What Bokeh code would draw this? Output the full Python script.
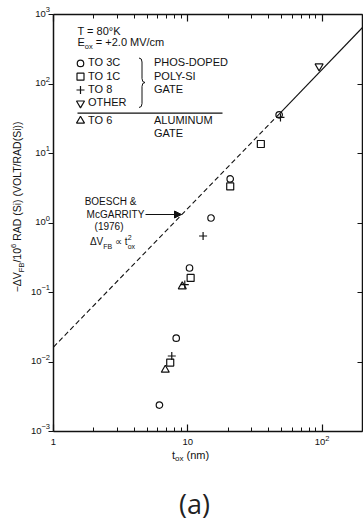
import math
import re
from bokeh.plotting import figure
from bokeh.models import Label, Arrow, NormalHead, FixedTicker, LogAxis, Range1d
from bokeh.embed import file_html
from bokeh.resources import INLINE

# ---------------- data ----------------
TO3C_X = [6.15, 8.2, 10.3, 14.9, 20.7, 47.9]
TO3C_Y = [0.0024, 0.022, 0.225, 1.18, 4.3, 36.0]
TO1C_X = [7.4, 10.5, 20.7, 35.0]
TO1C_Y = [0.0098, 0.162, 3.36, 13.7]
TO8_X = [7.6, 9.5, 13.0, 49.0]
TO8_Y = [0.0122, 0.13, 0.65, 33.0]
OTHER_X = [95.0]
OTHER_Y = [180.0]
TO6_X = [6.8, 9.1]
TO6_Y = [0.0077, 0.122]

# Boesch & McGarrity t_ox^2 line (dashed part, solid part)
DASH_X = [1.0, 47.9]
DASH_Y = [0.0164, 37.0]
SOLID_X = [47.9, 200.0]
SOLID_Y = [37.0, 650.0]

X_TICKS = [1, 10, 100]
X_TICK_LABELS = [("1", ""), ("10", ""), ("10", "2")]
X_MINOR = [2, 3, 4, 5, 6, 7, 8, 9, 20, 30, 40, 50, 60, 70, 80, 90]
Y_TICKS = [1e-3, 1e-2, 1e-1, 1e0, 1e1, 1e2, 1e3]
Y_TICK_LABELS = [("10", "\u22123"), ("10", "\u22122"), ("10", "\u22121"), ("10", "0"),
                 ("10", "1"), ("10", "2"), ("10", "3")]

# ---------------- layout (pixel frame of the axes box) ----------------
WIDTH, HEIGHT = 363, 524
L, R, T, B = 53, 362, 14, 431
XMIN, XMAX = 1.0, 200.0
YMIN, YMAX = 1e-3, 1e3
PPX = (R - L) / math.log10(XMAX / XMIN)
PPY = (B - T) / math.log10(YMAX / YMIN)
FONT = "Liberation Sans"
INK = "#111111"
BASE_FIX = -0.45   # em correction of the label baseline


def X(px):
    return XMIN * 10 ** ((px - L) / PPX)


def Y(py):
    return YMAX * 10 ** (-(py - T) / PPY)


def PX(v):
    return L + PPX * math.log10(v / XMIN)


def PY(v):
    return T + PPY * math.log10(YMAX / v)


WID = {' ': .278, '(': .333, ')': .333, '/': .278, '-': .333, '+': .584, '=': .584,
       '.': .278, '&': .667, '\u00b0': .4, '\u2212': .584, '\u0394': .668, '\u221d': .713,
       'A': .667, 'B': .667, 'C': .722, 'D': .722, 'E': .667, 'F': .611, 'G': .778,
       'H': .722, 'I': .278, 'K': .667, 'L': .556, 'M': .833, 'N': .722, 'O': .778,
       'P': .667, 'R': .722, 'S': .667, 'T': .611, 'U': .722, 'V': .667, 'Y': .667,
       'a': .556, 'c': .5, 'i': .222, 'm': .833, 'n': .556, 'o': .556, 'x': .5,
       't': .278, 's': .5}


def tw(s, size):
    return sum(WID.get(ch, .556) for ch in s) * size


# the frame covers the whole canvas; axes are pinned with fixed_location
p = figure(width=WIDTH, height=HEIGHT, x_axis_type="log", y_axis_type="log",
           x_range=Range1d(X(0), X(WIDTH)), y_range=Range1d(Y(HEIGHT), Y(0)),
           output_backend="svg", toolbar_location=None,
           min_border_left=0, min_border_right=0, min_border_top=0,
           min_border_bottom=0)
p.grid.visible = False
p.outline_line_color = None
p.background_fill_color = "white"
p.border_fill_color = "white"


def style_axis(ax, tin, tout, minor_in, loc, bounds):
    ax.fixed_location = loc
    ax.bounds = bounds
    ax.axis_line_width = 1.5
    ax.axis_line_color = INK
    ax.major_tick_line_color = INK
    ax.major_tick_line_width = 1.2
    ax.major_tick_in = tin
    ax.major_tick_out = tout
    ax.minor_tick_line_color = INK if minor_in else None
    ax.minor_tick_line_width = 1.0
    ax.minor_tick_in = minor_in
    ax.minor_tick_out = 0
    ax.major_label_text_font_size = "1px"
    ax.major_label_text_color = None
    ax.major_label_standoff = 0


xb = p.xaxis[0]
xb.ticker = FixedTicker(ticks=X_TICKS, minor_ticks=X_MINOR)
style_axis(xb, 7, 0, 4, YMIN, (XMIN, XMAX))
yl = p.yaxis[0]
yl.ticker = FixedTicker(ticks=Y_TICKS, minor_ticks=[])
style_axis(yl, 0, 5, 0, XMIN, (YMIN, YMAX))

xt = LogAxis(ticker=FixedTicker(ticks=X_TICKS, minor_ticks=X_MINOR))
style_axis(xt, 7, 0, 4, YMAX, (XMIN, XMAX))
p.add_layout(xt, "above")
yr = LogAxis(ticker=FixedTicker(ticks=Y_TICKS, minor_ticks=[]))
style_axis(yr, 5, 0, 0, XMAX, (YMIN, YMAX))
p.add_layout(yr, "right")


def runs(parts, px, py, align="left", angle=0.0, font=FONT, color=INK):
    """parts: (text, size, baseline shift px [, advance])"""
    def adv(pt):
        return pt[3] if len(pt) > 3 else True
    total = sum(tw(pt[0], pt[1]) for pt in parts if adv(pt))
    acc = {"left": 0.0, "center": -total / 2, "right": -total}[align]
    for pt in parts:
        t, s, d = pt[0], pt[1], pt[2]
        lead = len(t) - len(t.lstrip(" "))
        shown = re.sub(" +", " ", t.strip(" "))
        a = acc + tw(" " * lead, s)
        if angle == 0:
            x, y = px + a, py + d + BASE_FIX * s
        else:
            x, y = px + d + BASE_FIX * s, py - a
        p.add_layout(Label(x=X(x), y=Y(y), text=shown, text_font=font,
                           text_font_size=f"{s}px", text_color=color,
                           text_align="left", text_baseline="alphabetic",
                           angle=angle))
        if adv(pt):
            acc += tw(t, s)


# ---------------- fitted line ----------------
p.line(DASH_X, DASH_Y, line_color=INK, line_width=1.1, line_dash="5 3")
p.line(SOLID_X, SOLID_Y, line_color=INK, line_width=1.1)

# ---------------- data markers ----------------
mk = dict(fill_alpha=0, line_color=INK, line_width=1.2)
p.scatter(TO3C_X, TO3C_Y, marker="circle", size=6.5, **mk)
p.scatter(TO1C_X, TO1C_Y, marker="square", size=7, **mk)
p.scatter(TO8_X, TO8_Y, marker="cross", size=8, **mk)
p.scatter(OTHER_X, OTHER_Y, marker="inverted_triangle", size=8, **mk)
p.scatter(TO6_X, TO6_Y, marker="triangle", size=8, **mk)

# ---------------- tick labels ----------------
for v, (base, ex) in zip(X_TICKS, X_TICK_LABELS):
    parts = [(base, 9.5, 0)] + ([(ex, 7.5, -5)] if ex else [])
    runs(parts, PX(v), 446, align="center")
for v, (base, ex) in zip(Y_TICKS, Y_TICK_LABELS):
    runs([(base, 9.5, 0), (ex, 7.5, -5)], 49.5, PY(v) + 3.5, align="right")

# ---------------- axis titles ----------------
runs([("t", 11, 0), ("ox", 8, 2.5), (" (nm)", 11, 0)], 190, 459.5, align="center")
runs([("\u2212\u0394V", 10.5, 0), ("FB", 7.5, 3), ("/10", 10.5, 0), ("6", 7.5, -4.5),
      (" RAD (Si) (VOLT/RAD(Si))", 10.5, 0)], 21, 206, align="center",
     angle=math.pi / 2)

# ---------------- legend block ----------------
FS = 11
runs([("T = 80\u00b0K", FS, 0)], 77, 35)
runs([("E", FS, 0), ("ox", 7.5, 3), (" = +2.0 MV/cm", FS, 0)], 77, 46.7)
LEG_NAMES = ["TO 3C", "TO 1C", "TO 8", "OTHER"]
LEG_MARKERS = ["circle", "square", "cross", "inverted_triangle"]
LEG_SIZES = [6.5, 7, 8, 8]
for i, (nm, m, sz) in enumerate(zip(LEG_NAMES, LEG_MARKERS, LEG_SIZES)):
    base = 66.7 + 13.3 * i
    runs([(nm, FS, 0)], 87.5, base)
    p.scatter([X(80)], [Y(base - 3.8)], marker=m, size=sz, **mk)
for i, nm in enumerate(["PHOS-DOPED", "POLY-SI", "GATE"]):
    runs([(nm, FS, 0)], 153.5, 66.7 + 13.3 * i)
# brace
p.quadratic(x0=[X(138.5), X(141.5), X(144.5), X(141.5)],
            y0=[Y(57.5), Y(78), Y(82), Y(103)],
            x1=[X(141.5), X(144.5), X(141.5), X(138.5)],
            y1=[Y(61.5), Y(82), Y(86), Y(107)],
            cx=[X(141.5), X(141.5), X(141.5), X(141.5)],
            cy=[Y(57.5), Y(82), Y(82), Y(107)], line_color=INK, line_width=1)
p.segment(x0=[X(141.5), X(141.5)], y0=[Y(61.5), Y(86)],
          x1=[X(141.5), X(141.5)], y1=[Y(78), Y(103)], line_color=INK, line_width=1)
# divider
p.segment(x0=[X(77)], y0=[Y(112.7)], x1=[X(222)], y1=[Y(112.7)], line_color=INK,
          line_width=1.2)
runs([("TO 6", FS, 0)], 87.5, 124)
p.scatter([X(80)], [Y(120.3)], marker="triangle", size=8, **mk)
runs([("ALUMINUM", FS, 0)], 153.5, 124)
runs([("GATE", FS, 0)], 153.5, 137.3)

# ---------------- Boesch annotation ----------------
AF = 10
runs([("BOESCH &", AF, 0)], 110, 205, align="center")
runs([("McGARRITY", AF, 0)], 115, 218.3, align="center")
runs([("(1976)", AF, 0)], 108.5, 230.5, align="center")
runs([("\u0394V", AF, 0), ("FB", 7, 3), (" \u221d t", AF, 0), ("2", 7, -5.5, False),
      ("ox", 7, 3.5)], 112, 245.7, align="center")
p.add_layout(Arrow(end=NormalHead(size=7, fill_color=INK, line_color=INK, line_width=1),
                   x_start=X(145), y_start=Y(214), x_end=X(181), y_end=Y(214),
                   line_color=INK, line_width=1.2))

# ---------------- panel tag ----------------
runs([("(a)", 27, 0)], 195, 515, align="center", font="Open Sans", color="#222222")

open("out.html", "w").write(file_html(p, INLINE))
